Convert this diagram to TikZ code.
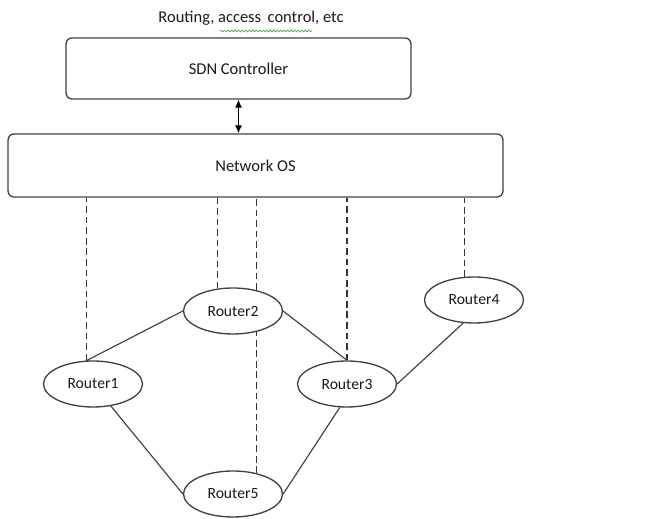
\documentclass[tikz,border=0pt]{standalone}
\usepackage{fontspec}
\setmainfont{Carlito}
\usetikzlibrary{shapes.geometric,arrows.meta,decorations.pathmorphing}
\begin{document}
\begin{tikzpicture}[x=0.02cm,y=-0.02cm,font=\fontsize{9.4}{11}\selectfont,text=black!90,
  box/.style={draw=black!75,line width=0.75pt,rounded corners=0.12cm},
  router/.style={ellipse,draw=black!75,line width=0.75pt,fill=white,minimum width=1.98cm,minimum height=0.92cm,inner sep=0pt,font=\fontsize{8.9}{10}\selectfont},
  link/.style={black!75,line width=0.65pt},
  ctrl/.style={black!80,line width=0.65pt,dash pattern=on 3.8pt off 2.2pt}]
\useasboundingbox (0,0) rectangle (653,519);
\node (title) at (251,18) {Routing, access\, control, etc};
\draw[green!50!black!70,line width=0.4pt,decorate,decoration={snake,amplitude=0.5pt,segment length=2pt}] (220,31) -- (312,31);
\node[box,minimum width=6.9cm,minimum height=1.22cm] (sdn) at (238.5,68.5) {SDN Controller};
\node[box,minimum width=9.9cm,minimum height=1.26cm] (nos) at (255.5,165.5) {Network OS};
\draw[{Latex[length=4.5pt,width=4pt]}-{Latex[length=4.5pt,width=4pt]},line width=0.75pt] (sdn.south) -- (sdn.south |- nos.north);
\node[router] (r1) at (93,384) {Router1};
\node[router] (r2) at (233,311) {Router2};
\node[router] (r3) at (347,384) {Router3};
\node[router] (r4) at (474,300) {Router4};
\node[router] (r5) at (233,494) {Router5};
\draw[ctrl] (r1.105) -- (r1.105 |- nos.south);
\draw[ctrl] (r2.124) -- (r2.124 |- nos.south);
\draw[ctrl] (r2.42) -- (r2.42 |- nos.south);
\draw[ctrl] (r5.42) -- (r2.-42);
\draw[ctrl] (r3.north) -- (r3.north |- nos.south);
\draw[ctrl] (r4.112) -- (r4.112 |- nos.south);
\draw[link] (r1.105) -- (r2.west);
\draw[link] (r2.east) -- (r3.north);
\draw[link] (r3.east) -- (r4.245);
\draw[link] (r1.309) -- (r5.west);
\draw[link] (r3.253) -- (r5.east);
\end{tikzpicture}
\end{document}
